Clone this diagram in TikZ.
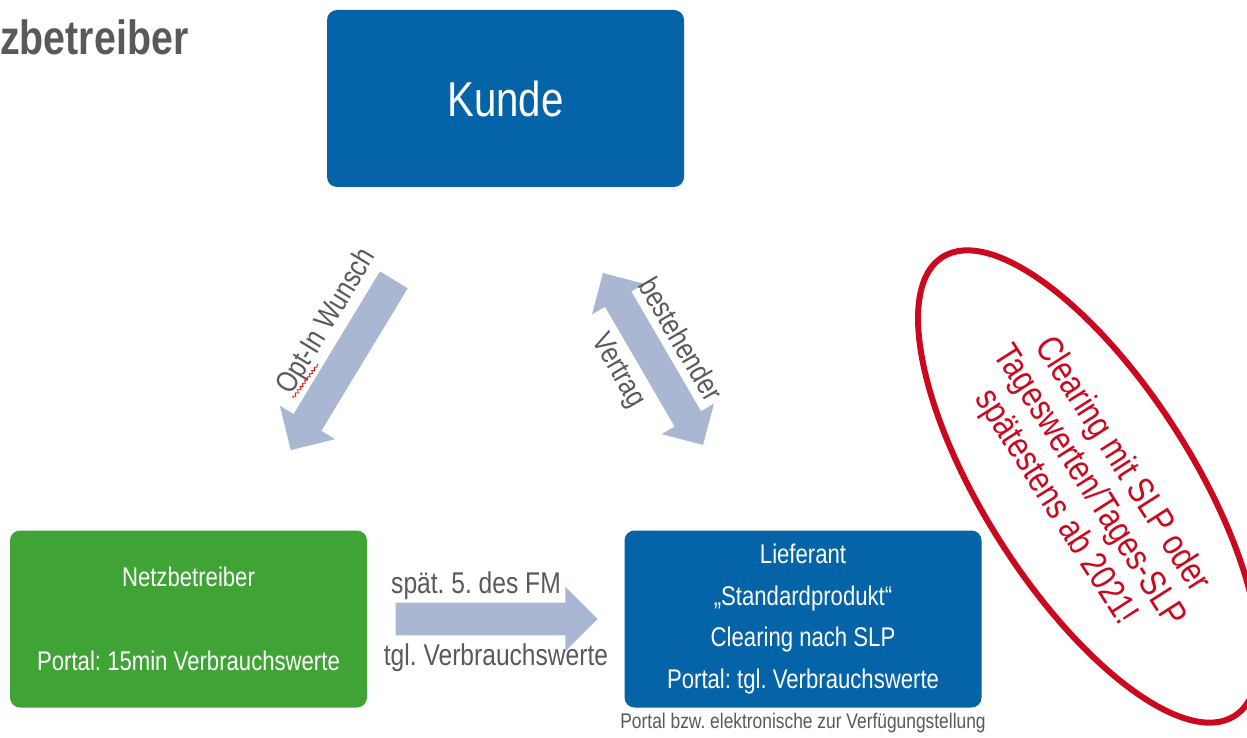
\documentclass[tikz,border=0pt]{standalone}
\usepackage{fontspec}
\setmainfont[FakeStretch=0.82]{Liberation Sans}
\usepackage{xcolor}
\usepackage{tikz}
\usetikzlibrary{shapes,shapes.arrows,positioning,calc,decorations.pathmorphing}
\definecolor{primary}{HTML}{0563A7}
\definecolor{netzgreen}{HTML}{40A336}
\definecolor{arrowgray}{HTML}{A9B7D3}
\definecolor{textgray}{HTML}{595959}
\definecolor{alertred}{HTML}{CC081E}
\frenchspacing

\begin{document}
\begin{tikzpicture}[x=0.75pt, y=-0.75pt,
  box/.style={rectangle, rounded corners=7.5pt, minimum width=267.75pt, minimum height=132.75pt, align=center, text=white, font=\fontsize{20.25}{31.3}\selectfont, inner sep=0pt},
  flow/.style={single arrow, fill=arrowgray, single arrow head extend=12pt, inner sep=12pt},
  both/.style={double arrow, fill=arrowgray, double arrow head extend=11.25pt, inner sep=11.25pt},
  lbl/.style={font=\fontsize{22.5}{27}\selectfont, text=textgray, inner sep=0pt}
]
\clip (0,0) rectangle (1247,738);

\node[anchor=base west, font=\fontsize{36}{42}\selectfont\bfseries, text=textgray, inner sep=0pt] (title) at (0,55) {zbetreiber};

\node[box, fill=primary, font=\fontsize{36.75}{44}\selectfont] (kunde) at (505.5,98.5) {Kunde};
\node[box, fill=netzgreen] (netz) at (188.5,619) {Netzbetreiber\\[31.3pt]Portal: 15min Verbrauchswerte};
\node[box, fill=primary, right=192.75pt of netz] (lief) {Lieferant\\„Standardprodukt“\\Clearing nach SLP\\Portal: tgl. Verbrauchswerte};
\node[font=\fontsize{15.9}{19}\selectfont, text=textgray, inner sep=0pt, below=4pt of lief] (note) {Portal bzw. elektronische zur Verfügungstellung};

% Pfeile
\node[flow, minimum height=149.25pt, rotate=-121.2] (optin) at (346.5,358) {};
\node[both, minimum height=149.25pt, rotate=-59.8] (vertrag) at (653,359) {};
\node[flow, minimum height=151.5pt, right=21pt of netz] (fm) {};

\node[lbl, rotate=58.8] (optinlbl) at (327,322) {Opt-In Wunsch};
\draw[red, line width=0.6pt, decorate, decoration={snake, amplitude=0.9pt, segment length=3pt}] (293,398) -- (318,364);
\node[lbl, rotate=-59.8] (bestlbl) at (681,339) {bestehender};
\node[lbl, rotate=-59.8] (vertlbl) at (618,371) {Vertrag};
\node[lbl, anchor=base] (fmtop) at (476,593) {spät. 5. des FM};
\node[lbl, anchor=base] (fmbot) at (496,665) {tgl. Verbrauchswerte};

\node[ellipse, draw=alertred, line width=4.5pt, minimum width=408pt, minimum height=156pt, rotate=-57.5, text=alertred, align=center, font=\fontsize{27.5}{29.5}\selectfont, inner sep=0pt] (clearing) at (1088.5,486.5) {Clearing mit SLP oder\\Tageswerten/Tages-SLP\\spätestens ab 2021!};
\end{tikzpicture}
\end{document}
